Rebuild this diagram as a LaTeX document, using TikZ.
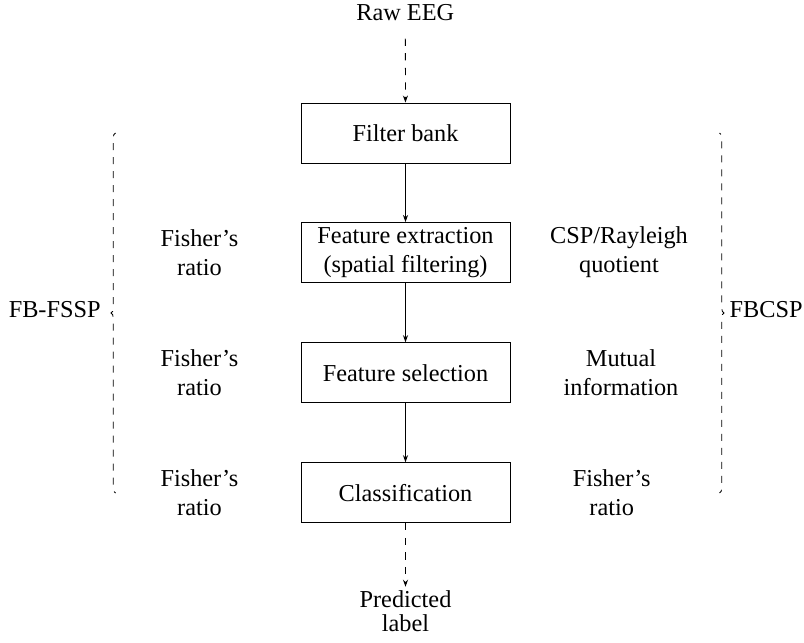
\documentclass[tikz,border=0pt]{standalone}
\usepackage{fontspec}
\setmainfont{Liberation Serif}
\usetikzlibrary{arrows.meta,decorations.pathreplacing}
\begin{document}
\begin{tikzpicture}[x=1bp,y=-1bp,
  font=\fontsize{24.3bp}{29.2bp}\selectfont,
  line width=0.8bp,
  box/.style={draw, minimum width=209bp, minimum height=60bp, align=center, line width=0.9bp},
  lbl/.style={align=center},
  arr/.style={-{Stealth[length=7bp,width=5bp]}},
  dsh/.style={dash pattern=on 7.3bp off 7.3bp},
  brc/.style={dash pattern=on 7bp off 7bp, dash phase=5bp, decorate, decoration={brace, amplitude=4.5bp}}]
\useasboundingbox (0,0) rectangle (804,643);

\node[lbl] (raw) at (405.3,12.7) {Raw EEG};
\node[box] (fb) at (405.5,133) {Filter bank};
\node[box] (fe) at (405.5,252.5) {Feature extraction\\(spatial filtering)};
\node[box] (fs) at (405.5,372.7) {Feature selection};
\node[box] (cl) at (405.5,492.7) {Classification};
\node[lbl] (pred) at (405.5,611.3) {Predicted\\[-4.6bp]label};

\node[lbl] (l1) at (199.5,252.5) {Fisher's\\ratio};
\node[lbl] (l2) at (199.5,372.7) {Fisher's\\ratio};
\node[lbl] (l3) at (199.5,492.7) {Fisher's\\ratio};

\node[lbl] (r1) at (619,252.5) {CSP/Rayleigh\\quotient};
\node[lbl] (r2) at (621,372.7) {Mutual\\information};
\node[lbl] (r3) at (611.7,492.7) {Fisher's\\ratio};

\node[lbl] (fbfssp) at (54.7,309.5) {FB-FSSP};
\node[lbl] (fbcsp) at (766.2,309.5) {FBCSP};

\coordinate (lbt) at (115.5,133);
\coordinate (lbb) at (115.5,493);
\coordinate (rbt) at (719.5,133);
\coordinate (rbb) at (719.5,493);

\draw[arr,dsh,shorten <=14bp] (raw) -- (fb);
\draw[arr] (fb) -- (fe);
\draw[arr] (fe) -- (fs);
\draw[arr] (fs) -- (cl);
\draw[arr,dsh] (cl) -- (pred);

\draw[brc] (lbb) -- (lbt);
\draw[brc] (rbt) -- (rbb);
\end{tikzpicture}
\end{document}
